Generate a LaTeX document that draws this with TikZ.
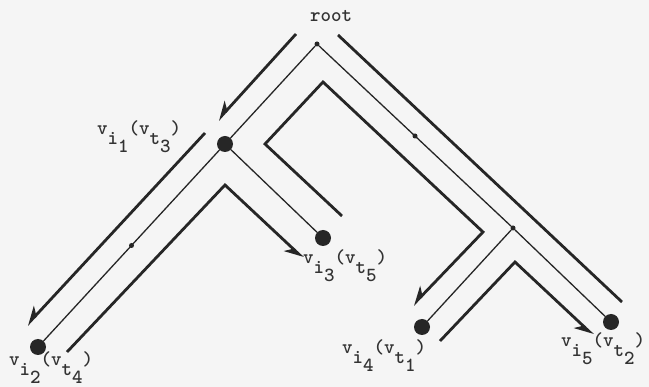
\documentclass[tikz,border=0pt]{standalone}
\usetikzlibrary{arrows.meta, positioning}

\tikzset{
  bigdot/.style={circle, fill=black!85, inner sep=0pt, minimum size=16pt},
  smalldot/.style={circle, fill=black!85, inner sep=0pt, minimum size=5pt},
  edge/.style={line width=1.3pt, draw=black!85},
  tour/.style={line width=2.8pt, draw=black!85, line join=miter},
  tourarrow/.style={tour, -{Stealth[harpoon, swap, length=16pt, width=16pt]}},
  lbl/.style={font=\fontsize{20}{22}\selectfont\ttfamily\bfseries, inner sep=0pt, text=black!80}
}
% typewriter label: letters lowered, not shrunk
\newcommand{\vlab}[4]{v\raisebox{-10pt}{#1\raisebox{-8pt}{#2}}(v\raisebox{-10pt}{#3\raisebox{-8pt}{#4}})}

\begin{document}
\begin{tikzpicture}[x=1pt, y=-1pt]
      \fill[black!4] (0,0) rectangle (649,387);
      \useasboundingbox (0,0) rectangle (649,387);

      % tree
      \node[smalldot] (root) at (317,44) {};
      \node[bigdot] (vi1) at (225,144) {};
      \node[bigdot] (vi2) at (38,347) {};
      \node[bigdot] (vi3) at (323,238) {};
      \node[smalldot] (rr) at (513,228) {};
      \node[bigdot] (vi4) at (422,327) {};
      \node[bigdot] (vi5) at (611,322) {};

      \draw[edge] (root) -- (vi1);
      \draw[edge] (vi1) -- node[smalldot, pos=0.5] (m1) {} (vi2);
      \draw[edge] (vi1) -- (vi3);
      \draw[edge] (root) -- node[smalldot, pos=0.5] (m2) {} (rr);
      \draw[edge] (rr) -- (vi4);
      \draw[edge] (rr) -- (vi5);

      % labels
      \node[lbl] (lroot) at (331,16) {root};
      \node[lbl, anchor=base west] (l1) at (97,135) {\vlab{i}{1}{t}{3}};
      \node[lbl, anchor=base west] (l2) at (9,366) {\vlab{i}{2}{t}{4}};
      \node[lbl, anchor=base west] (l3) at (303,264) {\vlab{i}{3}{t}{5}};
      \node[lbl, anchor=base west] (l4) at (342,354) {\vlab{i}{4}{t}{1}};
      \node[lbl, anchor=base west] (l5) at (561,347) {\vlab{i}{5}{t}{2}};

      % tour around the tree
      \coordinate (t1s) at (296,34);  \coordinate (t1e) at (218,120);
      \coordinate (t2s) at (205,133); \coordinate (t2e) at (27,325);
      \coordinate (t3s) at (67,352);  \coordinate (t3m) at (225,185); \coordinate (t3e) at (303,258);
      \coordinate (t4s) at (342,216); \coordinate (t4a) at (265,144); \coordinate (t4b) at (323,82);
      \coordinate (t4c) at (483,232); \coordinate (t4e) at (413,305);
      \coordinate (t5s) at (440,341); \coordinate (t5m) at (515,262); \coordinate (t5e) at (593,335);
      \coordinate (t6s) at (622,302); \coordinate (t6e) at (338,35);

      \draw[tourarrow] (t1s) -- (t1e);
      \draw[tourarrow] (t2s) -- (t2e);
      \draw[tourarrow] (t3s) -- (t3m) -- (t3e);
      \draw[tourarrow] (t4s) -- (t4a) -- (t4b) -- (t4c) -- (t4e);
      \draw[tourarrow] (t5s) -- (t5m) -- (t5e);
      \draw[tour] (t6s) -- (t6e);
\end{tikzpicture}
\end{document}
